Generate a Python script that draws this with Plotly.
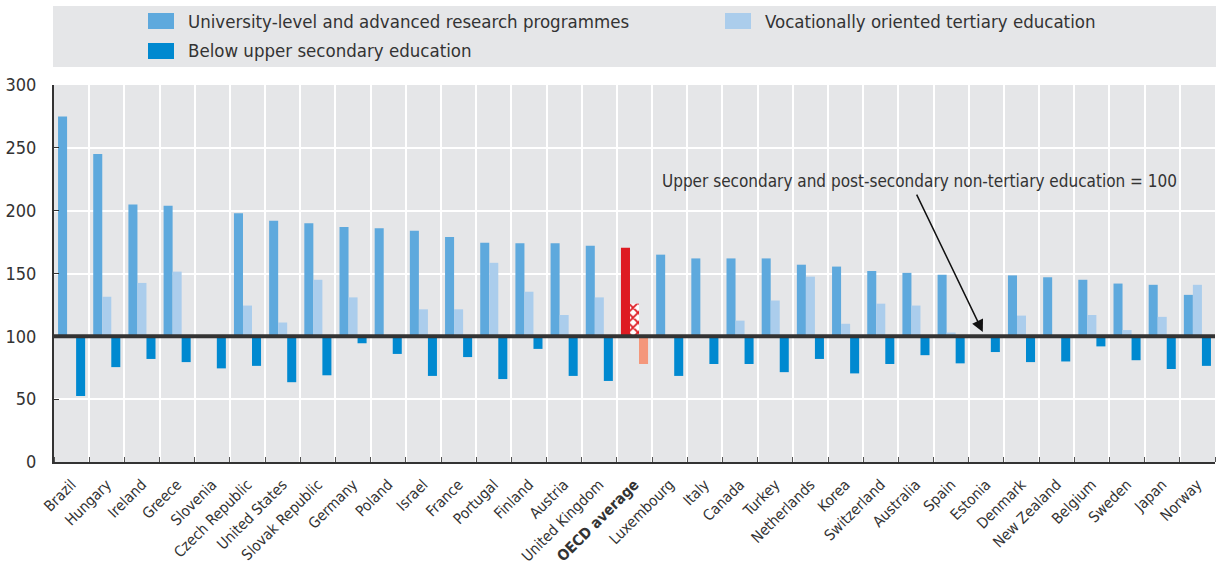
import plotly.graph_objects as go

countries = ["Brazil", "Hungary", "Ireland", "Greece", "Slovenia", "Czech Republic", "United States",
             "Slovak Republic", "Germany", "Poland", "Israel", "France", "Portugal", "Finland", "Austria",
             "United Kingdom", "OECD average", "Luxembourg", "Italy", "Canada", "Turkey", "Netherlands",
             "Korea", "Switzerland", "Australia", "Spain", "Estonia", "Denmark", "New Zealand", "Belgium",
             "Sweden", "Japan", "Norway"]
university = [275, 245, 205, 204, None, 198, 192, 190, 187, 186, 184, 179, 174.5, 174, 174, 172,
              170.5, 165, 162, 162, 162, 157, 155.5, 152, 150.5, 149, None, 148.5, 147, 145, 142, 141, 133]
vocational = [None, 131.5, 142.5, 151.5, None, 124.5, 111, 145, 131, None, 121.5, 121.5, 158.5, 135.5,
              117, 131, 126, None, None, 112.5, 128.5, 147.5, 110, 126, 124.5, 103, None, 116.5, None,
              117, 105, 115.5, 141]
below = [52.5, 75.5, 82, 79.5, 74.5, 76.5, 63.5, 69, 94.5, 86, 68.5, 83.5, 66, 90, 68.5, 64.5,
         78, 68.5, 78, 78, 71.5, 82, 70.5, 78, 85, 78.5, 87.5, 79.5, 80, 92, 81, 74, 76.5]
series_names = ["University-level and advanced research programmes",
                "Below upper secondary education",
                "Vocationally oriented tertiary education"]
annotation_text = "Upper secondary and post-secondary non-tertiary education = 100"
baseline = 100
y_ticks = [0, 50, 100, 150, 200, 250, 300]

C_UNI = "#5EA9DD"
C_VOC = "#ABCDEC"
C_BELOW = "#0089D0"
OECD_UNI = "#DE1B22"
OECD_BELOW = "#F4977B"
BG = "#E5E6E8"
DARK = "#333333"
FONT = "Liberation Sans Narrow, DejaVu Sans Condensed, Arial Narrow, sans-serif"

idx = list(range(len(countries)))
oecd = countries.index("OECD average")

def rel(vals):
    return [None if v is None else v - baseline for v in vals]

uni_colors = [OECD_UNI if i == oecd else C_UNI for i in idx]
below_colors = [OECD_BELOW if i == oecd else C_BELOW for i in idx]
voc_rel = rel(vocational)
voc_main = [None if i == oecd else v for i, v in enumerate(voc_rel)]
voc_oecd = [v if i == oecd else None for i, v in enumerate(voc_rel)]

fig = go.Figure()
fig.add_trace(go.Bar(x=idx, y=rel(university), base=baseline, name=series_names[0], offsetgroup="a",
                     marker=dict(color=uni_colors, line_width=0)))
fig.add_trace(go.Bar(x=idx, y=voc_main, base=baseline, name=series_names[2], offsetgroup="b",
                     marker=dict(color=C_VOC, line_width=0)))
fig.add_trace(go.Bar(x=idx, y=voc_oecd, base=baseline, name=series_names[2] + " (OECD)", offsetgroup="b",
                     marker=dict(color="white", line_width=0,
                                 pattern=dict(shape="x", fgcolor=OECD_UNI, bgcolor="white",
                                              fillmode="replace", fgopacity=1, size=7, solidity=0.45))))
fig.add_trace(go.Bar(x=idx, y=rel(below), base=baseline, name=series_names[1], offsetgroup="c",
                     marker=dict(color=below_colors, line_width=0)))

ticktext = ["<b>%s</b>" % c if c == "OECD average" else c for c in countries]

fig.update_layout(
    width=1216, height=573,
    margin=dict(l=54, r=1, t=85, b=111),
    paper_bgcolor="white", plot_bgcolor=BG,
    barmode="group", bargap=0.23, bargroupgap=0,
    showlegend=False,
    font=dict(family=FONT, size=16, color=DARK),
    xaxis=dict(range=[-0.5, len(countries) - 0.5], tickvals=idx, ticktext=ticktext,
               tickangle=-45, showgrid=False, zeroline=False, ticks="",
               showline=True, linecolor=DARK, linewidth=2, ticklabelstandoff=6,
               tickfont=dict(size=15, family=FONT, color=DARK),
               minor=dict(tick0=-0.5, dtick=1, showgrid=True, gridcolor="white", gridwidth=2,
                          ticks="inside", ticklen=5, tickcolor="#555")),
    yaxis=dict(range=[0, 300], tickvals=y_ticks, showgrid=True, gridcolor="white", gridwidth=2,
               zeroline=False, showline=True, linecolor=DARK, linewidth=2,
               ticks="inside", ticklen=5, tickcolor=DARK, ticklabelstandoff=12,
               tickfont=dict(size=18, family=FONT, color=DARK)),
)

# baseline at 100
fig.add_shape(type="line", xref="paper", yref="y", x0=0, x1=1, y0=baseline, y1=baseline,
              line=dict(color=DARK, width=4), layer="above")

# annotation with arrow
fig.add_annotation(x=25.9, y=103.5, ax=24.0, ay=214, xref="x", yref="y", axref="x", ayref="y",
                   text="", showarrow=True, arrowhead=2, arrowsize=1.6, arrowwidth=1.5, arrowcolor="#111")
fig.add_annotation(x=24.1, y=224, xref="x", yref="y", text=annotation_text, showarrow=False,
                   font=dict(size=17, family=FONT, color=DARK))

# legend drawn manually
W, H = 1161.0, 377.0
def px(x):
    return (x - 54) / W
def py(y):
    return (462 - y) / H

fig.add_shape(type="rect", xref="paper", yref="paper", x0=px(53), x1=px(1216), y0=py(67), y1=py(6),
              fillcolor=BG, line_width=0)
legend_items = [(148, 21, C_UNI, series_names[0]), (148, 51, C_BELOW, series_names[1]),
                (725, 21, C_VOC, series_names[2])]
for x0, yc, col, name in legend_items:
    fig.add_shape(type="rect", xref="paper", yref="paper", x0=px(x0), x1=px(x0 + 26),
                  y0=py(yc + 8), y1=py(yc - 8), fillcolor=col, line_width=0)
    fig.add_annotation(xref="paper", yref="paper", x=px(x0 + 38), y=py(yc), text=name,
                       showarrow=False, xanchor="left", yanchor="middle",
                       font=dict(size=18.5, family=FONT, color=DARK))

fig.write_html("out.html", config={"displayModeBar": False},
               post_script="document.body.style.margin='0px';")
